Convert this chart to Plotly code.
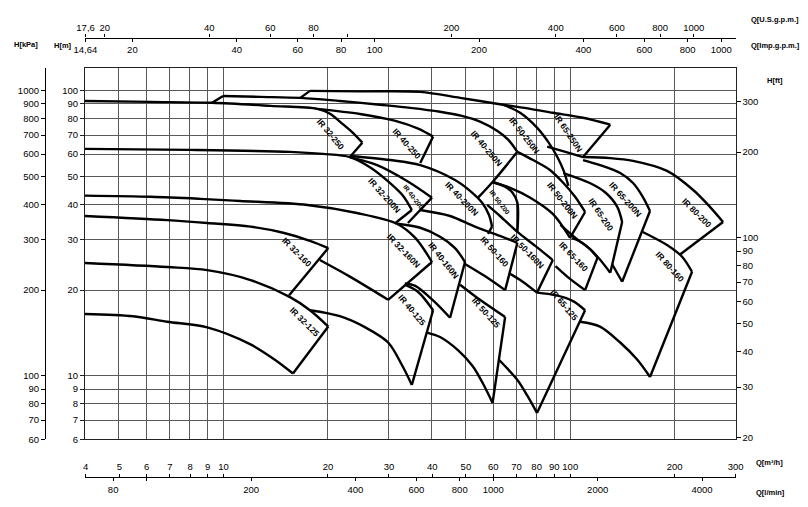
import math
import numpy as np
import plotly.graph_objects as go

# Main scale: flow Q in m3/h (x), head H in m (y), both logarithmic
Q_RANGE = (4, 300)
H_RANGE = (6, 120)

# conversion factors for the secondary scales
TO_USGPM = 4.4029
TO_IMPGPM = 3.6662
TO_LMIN = 16.667
TO_FT = 3.2808
TO_KPA = 10.0   # the chart prints 1000 kPa level with 100 m

# tick values / labels for each scale
q_ticks = [4, 5, 6, 7, 8, 9, 10, 20, 30, 40, 50, 60, 70, 80, 90, 100, 200, 300]
h_ticks = [6, 7, 8, 9, 10, 20, 30, 40, 50, 60, 70, 80, 90, 100]
kpa_ticks = [60, 70, 80, 90, 100, 200, 300, 400, 500, 600, 700, 800, 900, 1000]
ft_ticks = [20, 30, 40, 50, 60, 70, 80, 90, 100, 200, 300]
usgpm_ticks = [17.6, 20, 40, 60, 80, 100, 200, 400, 600, 800, 1000]
usgpm_text = ['17,6', '20', '40', '60', '80', '', '200', '400', '600', '800', '1000']
impgpm_ticks = [14.64, 20, 40, 60, 80, 100, 200, 400, 600, 800, 1000]
impgpm_text = ['14,64', '20', '40', '60', '80', '100', '200', '400', '600', '800', '1000']
lmin_ticks = [80, 100, 200, 400, 600, 800, 1000, 2000, 4000]
lmin_text = ['80', '', '200', '400', '600', '800', '1000', '2000', '4000']

# ---- pump outlines (Q m3/h, H m): top curve -> right edge -> lower curve
# 250 family
q_32_250 = [4.0, 6.2, 9.3, 13.7, 18.7, 20.4, 21.7, 23.5, 25.2, 23.2]
h_32_250 = [92.2, 91.5, 90.8, 88.6, 86.5, 83.0, 78.0, 71.8, 65.8, 58.6]
q_40_250 = [18.7, 24.8, 31.2, 36.5, 40.3, 37.0]
h_40_250 = [86.5, 83.0, 78.6, 73.7, 69.1, 55.8]
q_40_250n = [9.3, 10.0, 12.8, 16.7, 21.7, 28.3, 34.6, 42.2, 48.8, 55.0, 61.6, 66.3, 70.5, 59.8, 54.3]
h_40_250n = [90.8, 96.0, 95.3, 94.5, 92.2, 89.4, 87.2, 84.5, 81.7, 78.0, 72.5, 67.5, 61.1, 47.9, 42.2]
q_50_250n = [64.1, 71.8, 80.3, 86.5, 91.9, 95.7, 98.9]
h_50_250n = [89.4, 83.8, 74.3, 66.2, 58.6, 52.7, 46.4]
q_65_250n = [16.7, 17.8, 24.8, 37.0, 48.2, 64.1, 76.8, 89.2, 109, 130.6, 109, 97.0, 85.9]
h_65_250n = [94.5, 100, 99.6, 99.2, 94.5, 89.4, 86.5, 83.8, 80.5, 76.1, 58.6, 61.1, 63.7]

# 200 family
q_32_200n = [4.0, 8.0, 15.6, 19.4, 23.2, 26.5, 30.3, 33.0, 35.0, 31.2]
h_32_200n = [62.6, 62.1, 61.1, 60.1, 58.6, 54.0, 47.5, 42.9, 38.2, 34.2]
q_40_200 = [23.2, 27.8, 33.9, 40.0, 34.1]
h_40_200 = [58.6, 54.9, 48.3, 42.2, 34.4]
q_40_200n = [23.2, 30.3, 37.0, 46.6, 51.5, 55.8, 58.4, 59.6, 58.0]
h_40_200n = [59.1, 57.2, 54.9, 48.7, 44.6, 40.5, 36.7, 33.4, 31.5]
q_50_200 = [59.8, 65.0, 68.2, 70.5, 70.5]
h_50_200 = [47.9, 46.1, 44.0, 40.5, 32.0]
q_50_200n = [70.5, 78.2, 87.7, 95.7, 103.4, 110.5, 100, 89.2, 76.8, 67.2, 59.8]
h_50_200n = [61.1, 57.2, 52.7, 47.5, 42.5, 37.6, 30.5, 37.0, 42.2, 45.7, 47.9]
q_65_200 = [95.7, 114, 126.4, 136.8, 141.3, 130.6, 120, 108.3, 101.3]
h_65_200 = [51.5, 47.5, 44.0, 39.2, 34.7, 23.0, 26.2, 29.3, 30.5]
q_65_200n = [109, 122, 139.5, 151.9, 162, 170, 141.3, 132.1]
h_65_200n = [57.2, 54.9, 51.5, 47.5, 42.5, 37.9, 21.4, 24.7]
q_80_200 = [109, 130.6, 151.9, 190.3, 226, 253, 276, 207]
h_80_200 = [58.6, 58.1, 56.8, 52.4, 45.0, 39.2, 34.7, 26.6]

# 160 family
q_32_160 = [4.0, 6.9, 9.0, 12.0, 14.9, 17.8, 20.1, 15.5]
h_32_160 = [36.4, 35.2, 34.4, 33.4, 31.8, 29.8, 28.1, 19.2]
q_32_160n = [4.0, 6.2, 8.6, 11.2, 17.5, 24.3, 31.7, 35.8, 40.0, 29.9, 23.2, 19.0]
h_32_160n = [42.9, 42.5, 41.8, 41.1, 39.8, 37.3, 34.2, 30.5, 25.1, 18.5, 22.3, 25.5]
q_40_160n = [31.7, 37.0, 42.2, 46.6, 49.8, 45.1, 40.5, 35.8, 33.4]
h_40_160n = [34.2, 33.1, 30.8, 28.1, 25.1, 16.0, 18.3, 20.7, 21.1]
q_50_160 = [37.0, 45.1, 53.2, 62.8, 70.5, 65.0, 56.8, 49.8]
h_50_160 = [38.2, 36.4, 33.4, 31.0, 29.3, 20.0, 22.4, 24.7]
q_50_160n = [57.7, 62.8, 70.5, 79.4, 89.2, 80.3, 72.7, 67.2]
h_50_160n = [39.8, 36.4, 32.0, 28.6, 25.5, 19.6, 21.5, 22.8]
q_65_160 = [93.8, 105.4, 114, 120, 110.5, 100, 90.8]
h_65_160 = [33.9, 30.0, 27.9, 26.0, 20.0, 21.9, 24.3]
q_80_160 = [162, 190.3, 210.3, 224.7, 170, 156.3, 139.5, 122, 106.9]
h_80_160 = [32.0, 28.8, 26.2, 23.2, 9.92, 11.4, 13.1, 14.9, 15.5]

# 125 family
q_32_125 = [4.0, 6.9, 9.0, 12.0, 15.6, 17.8, 20.1, 15.9, 14.1, 12.0, 9.0, 6.9, 5.5, 4.0]
h_32_125 = [24.9, 24.1, 23.5, 21.7, 18.9, 17.0, 14.9, 10.2, 11.4, 12.9, 14.8, 15.5, 16.2, 16.5]
q_40_125 = [33.4, 36.5, 40.3, 35.0, 32.8, 29.9, 25.7, 21.7, 17.8]
h_40_125 = [20.9, 19.7, 17.0, 9.3, 10.9, 13.1, 14.8, 16.2, 17.0]
q_50_125 = [48.2, 55.0, 65.0, 59.8, 56.2, 52.5, 47.6, 42.2, 38.7]
h_50_125 = [20.9, 18.5, 16.1, 8.04, 9.37, 10.8, 12.3, 13.7, 14.2]
q_65_125 = [80.3, 90.8, 102, 110.5, 80.3, 75.1, 70.5, 62.4]
h_65_125 = [19.6, 19.2, 18.3, 17.0, 7.42, 8.58, 9.68, 11.4]

curves = [
    (q_32_250, h_32_250), (q_40_250, h_40_250), (q_40_250n, h_40_250n),
    (q_50_250n, h_50_250n), (q_65_250n, h_65_250n),
    (q_32_200n, h_32_200n), (q_40_200, h_40_200), (q_40_200n, h_40_200n),
    (q_50_200, h_50_200), (q_50_200n, h_50_200n), (q_65_200, h_65_200),
    (q_65_200n, h_65_200n), (q_80_200, h_80_200),
    (q_32_160, h_32_160), (q_32_160n, h_32_160n), (q_40_160n, h_40_160n),
    (q_50_160, h_50_160), (q_50_160n, h_50_160n), (q_65_160, h_65_160),
    (q_80_160, h_80_160),
    (q_32_125, h_32_125), (q_40_125, h_40_125), (q_50_125, h_50_125),
    (q_65_125, h_65_125),
]

# label placement: text, Q, H, angle, small font?
labels = [
    ('IR 32-250', 20.4, 70.7, 50, False), ('IR 40-250', 33.9, 65.2, 48, False),
    ('IR 40-250N', 57.3, 63.1, 50, False), ('IR 50-250N', 73.7, 70.1, 52, False),
    ('IR 65-250N', 98.9, 71.3, 56, False),
    ('IR 32-200N', 29.1, 43.2, 48, False), ('IR 40-200', 35.3, 42.5, 52, True),
    ('IR 40-200N', 48.8, 41.8, 46, False), ('IR 50-200', 62.8, 40.5, 52, True),
    ('IR 50-200N', 94.8, 41.5, 52, False), ('IR 65-200', 122.9, 36.7, 56, False),
    ('IR 65-200N', 144, 41.8, 48, False), ('IR 80-200', 232, 37.3, 45, False),
    ('IR 80-160', 194.2, 24.1, 48, False),
    ('IR 32-160', 16.3, 27.2, 45, False), ('IR 32-160N', 33.2, 27.5, 46, False),
    ('IR 40-160N', 43.1, 25.5, 52, False), ('IR 50-160', 60.8, 27.3, 48, False),
    ('IR 50-160N', 75.2, 27.5, 46, False), ('IR 65-160', 102.7, 26.2, 46, False),
    ('IR 32-125', 17.2, 15.5, 45, False), ('IR 40-125', 35.0, 17.0, 50, False),
    ('IR 50-125', 57.3, 16.6, 48, False), ('IR 65-125', 96.1, 17.7, 50, False),
]

FONT = 'Liberation Sans, Arial, sans-serif'
W, H = 808, 507
OFF = 8  # page body margin in front of the plot div


def fx(px):
    return (px - OFF) / W


def fy(py):
    return 1 - (py - OFF) / H


X_DOM = [fx(85), fx(735.6)]
Y_DOM = [fy(439.2), fy(68.3)]
lg = np.log10

# screen pixels per decade on each axis, used only to find the sharp corners
PX_DEC_X = (X_DOM[1] - X_DOM[0]) * W / (lg(Q_RANGE[1]) - lg(Q_RANGE[0]))
PX_DEC_Y = (Y_DOM[1] - Y_DOM[0]) * H / (lg(H_RANGE[1]) - lg(H_RANGE[0]))


def split_at_corners(q, h, max_turn=30):
    """Cut an outline where it turns sharply, so smooth parts can be splined."""
    x = lg(q) * PX_DEC_X
    y = lg(h) * PX_DEC_Y
    pieces, start = [], 0
    for i in range(1, len(q) - 1):
        a1 = math.atan2(y[i] - y[i - 1], x[i] - x[i - 1])
        a2 = math.atan2(y[i + 1] - y[i], x[i + 1] - x[i])
        turn = abs((a2 - a1 + math.pi) % (2 * math.pi) - math.pi)
        if turn > math.radians(max_turn):
            pieces.append((start, i))
            start = i
    pieces.append((start, len(q) - 1))
    return pieces


fig = go.Figure()

for q, h in curves:
    for a, b in split_at_corners(q, h):
        fig.add_trace(go.Scatter(
            x=q[a:b + 1], y=h[a:b + 1], mode='lines',
            line=dict(color='black', width=2.4,
                      shape='spline' if b - a > 1 else 'linear', smoothing=0.9),
            hoverinfo='skip', showlegend=False
        ))

# invisible traces so every secondary scale gets drawn
for ax, vals in [('x2', usgpm_ticks), ('x3', impgpm_ticks),
                 ('x4', q_ticks), ('x5', lmin_ticks)]:
    fig.add_trace(go.Scatter(x=[vals[0], vals[-1]], y=[10, 10], xaxis=ax, yaxis='y',
                             mode='markers', marker=dict(opacity=0),
                             hoverinfo='skip', showlegend=False))
for ax, vals in [('y2', kpa_ticks), ('y3', ft_ticks)]:
    fig.add_trace(go.Scatter(x=[10, 10], y=[vals[0], vals[-1]], xaxis='x', yaxis=ax,
                             mode='markers', marker=dict(opacity=0),
                             hoverinfo='skip', showlegend=False))

# pump labels
for text, q, h, ang, small in labels:
    fig.add_annotation(
        x=lg(q), y=lg(h), xref='x', yref='y', text=text, showarrow=False,
        textangle=ang, font=dict(family=FONT, size=6.5 if small else 8.5,
                                 color='black', weight='bold')
    )

tick_font = dict(family=FONT, size=9.5, color='black')


def sec_x(rng, vals, text, pos, side):
    # tiny widening so the tick sitting on the left edge is kept
    return dict(type='log', range=[lg(rng[0]) - 0.002, lg(rng[1])], domain=X_DOM,
                anchor='free', position=pos, overlaying='x', side=side,
                tickvals=vals, ticktext=text, ticks='outside', ticklen=3,
                tickcolor='black', showline=True, linecolor='black', linewidth=1.3,
                showgrid=False, zeroline=False, tickfont=tick_font, automargin=False)


fig.update_layout(
    width=W, height=H,
    margin=dict(l=0, r=0, t=0, b=0),
    paper_bgcolor='white', plot_bgcolor='white',
    font=dict(family=FONT, color='black'),
    xaxis=dict(type='log', range=[lg(Q_RANGE[0]), lg(Q_RANGE[1])], domain=X_DOM,
               anchor='y', tickvals=q_ticks, showticklabels=False, ticks='',
               showgrid=True, gridcolor='#5a5a5a', gridwidth=1,
               showline=True, mirror=True, linecolor='#222222', linewidth=1,
               zeroline=False, automargin=False),
    yaxis=dict(type='log', range=[lg(H_RANGE[0]), lg(H_RANGE[1])], domain=Y_DOM,
               anchor='x', tickvals=h_ticks, ticktext=[str(v) for v in h_ticks],
               ticks='outside', ticklen=4, tickcolor='#222222',
               showgrid=True, gridcolor='#5a5a5a', gridwidth=1,
               showline=True, mirror=True, linecolor='#222222', linewidth=1,
               zeroline=False, tickfont=tick_font, automargin=False),
    xaxis2=sec_x((Q_RANGE[0] * TO_USGPM, Q_RANGE[1] * TO_USGPM),
                 usgpm_ticks, usgpm_text, fy(37.5), 'top'),
    xaxis3=sec_x((Q_RANGE[0] * TO_IMPGPM, Q_RANGE[1] * TO_IMPGPM),
                 impgpm_ticks, impgpm_text, fy(37.5), 'bottom'),
    xaxis4=sec_x(Q_RANGE, q_ticks, [str(v) for v in q_ticks], fy(477), 'top'),
    xaxis5=sec_x((Q_RANGE[0] * TO_LMIN, Q_RANGE[1] * TO_LMIN),
                 lmin_ticks, lmin_text, fy(477), 'bottom'),
    yaxis2=dict(type='log', range=[lg(H_RANGE[0] * TO_KPA), lg(H_RANGE[1] * TO_KPA)],
                domain=Y_DOM, anchor='free', position=fx(45), overlaying='y',
                side='left', tickvals=kpa_ticks, ticktext=[str(v) for v in kpa_ticks],
                ticks='outside', ticklen=4, tickcolor='black', showline=True,
                linecolor='black', linewidth=1.2, showgrid=False, zeroline=False,
                tickfont=tick_font, automargin=False),
    yaxis3=dict(type='log', range=[lg(H_RANGE[0] * TO_FT), lg(H_RANGE[1] * TO_FT)],
                domain=Y_DOM, anchor='x', overlaying='y', side='right',
                tickvals=ft_ticks, ticktext=[str(v) for v in ft_ticks],
                ticks='outside', ticklen=4, tickcolor='black', showline=False,
                showgrid=False, zeroline=False, tickfont=tick_font, automargin=False),
)

# unit titles of the scales (left edge, vertical centre in page pixels)
titles = [
    ('H[kPa]', 12, 44), ('H[m]', 52, 45), ('H[ft]', 765, 80),
    ('Q[U.S.g.p.m.]', 749, 19), ('Q[Imp.g.p.m.]', 749, 46),
    ('Q[m³/h]', 754, 462), ('Q[l/min]', 754, 492),
]
for text, px, py in titles:
    fig.add_annotation(x=fx(px), y=fy(py), xref='paper', yref='paper',
                       text=text, showarrow=False, xanchor='left', yanchor='middle',
                       font=dict(family=FONT, size=7.5, color='black', weight='bold'))

fig.write_html("out.html")
